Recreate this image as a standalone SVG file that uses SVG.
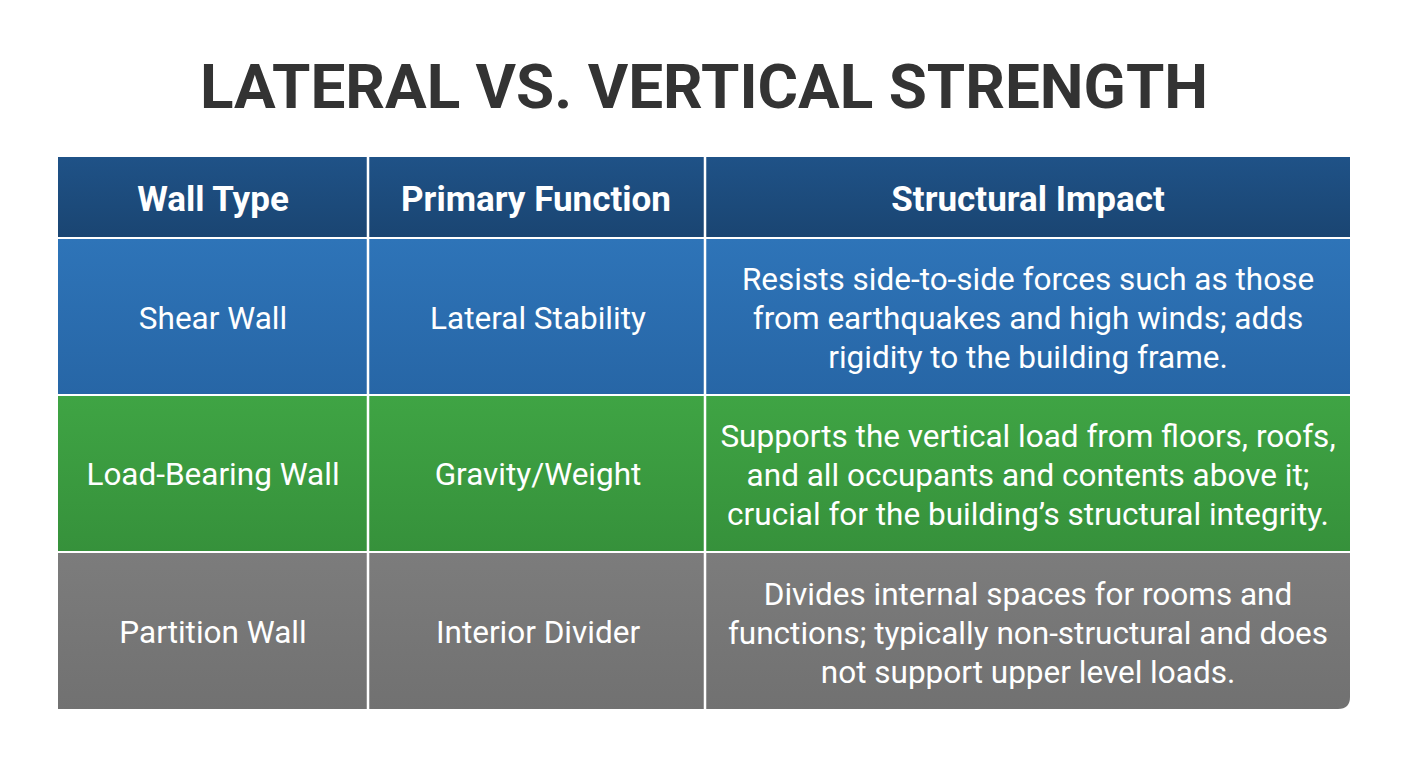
<svg xmlns="http://www.w3.org/2000/svg" width="1408" height="768" viewBox="0 0 1408 768">
<style>
.t{font-family:Roboto,"Liberation Sans",sans-serif;fill:#fff;text-anchor:middle}
.h{font-size:35px;font-weight:bold}
.c{font-size:31.5px;font-weight:normal}
</style>
<defs>
<linearGradient id="gh" x1="0" y1="0" x2="0" y2="1"><stop offset="0" stop-color="#1f5287"/><stop offset="1" stop-color="#1a4572"/></linearGradient>
<linearGradient id="gb" x1="0" y1="0" x2="0" y2="1"><stop offset="0" stop-color="#2e74b8"/><stop offset="1" stop-color="#2766a6"/></linearGradient>
<linearGradient id="gg" x1="0" y1="0" x2="0" y2="1"><stop offset="0" stop-color="#3fa444"/><stop offset="1" stop-color="#36913b"/></linearGradient>
<linearGradient id="gr" x1="0" y1="0" x2="0" y2="1"><stop offset="0" stop-color="#7c7c7c"/><stop offset="1" stop-color="#717171"/></linearGradient>
</defs>
<rect width="1408" height="768" fill="#fff"/>
<text x="704" y="108" font-family="Roboto,'Liberation Sans',sans-serif" font-weight="bold" font-size="62" fill="#333" text-anchor="middle">LATERAL VS. VERTICAL STRENGTH</text>
<g id="table">
<rect x="58" y="157" width="1292" height="80" fill="url(#gh)"/>
<rect x="58" y="239" width="1292" height="155" fill="url(#gb)"/>
<rect x="58" y="396" width="1292" height="155" fill="url(#gg)"/>
<path d="M58 553 H1350 V697 Q1350 709 1338 709 H58 Z" fill="url(#gr)"/>
<g stroke="#fff" stroke-width="2.5">
<line x1="368" y1="157" x2="368" y2="709"/>
<line x1="705" y1="157" x2="705" y2="709"/>
</g>
</g>
<g id="header" class="t h">
<text x="213" y="211">Wall Type</text>
<text x="536" y="211">Primary Function</text>
<text x="1028" y="211">Structural Impact</text>
</g>
<g id="row1" class="t c">
<text x="213" y="329">Shear Wall</text>
<text x="538" y="329">Lateral Stability</text>
<text x="1028" y="290">Resists side-to-side forces such as those</text>
<text x="1028" y="329">from earthquakes and high winds; adds</text>
<text x="1028" y="368">rigidity to the building frame.</text>
</g>
<g id="row2" class="t c">
<text x="213" y="485">Load-Bearing Wall</text>
<text x="538" y="485">Gravity/Weight</text>
<text x="1028" y="447">Supports the vertical load from floors, roofs,</text>
<text x="1028" y="486">and all occupants and contents above it;</text>
<text x="1028" y="525">crucial for the building’s structural integrity.</text>
</g>
<g id="row3" class="t c">
<text x="213" y="643">Partition Wall</text>
<text x="538" y="643">Interior Divider</text>
<text x="1028" y="605">Divides internal spaces for rooms and</text>
<text x="1028" y="644">functions; typically non-structural and does</text>
<text x="1028" y="683">not support upper level loads.</text>
</g>
</svg>
